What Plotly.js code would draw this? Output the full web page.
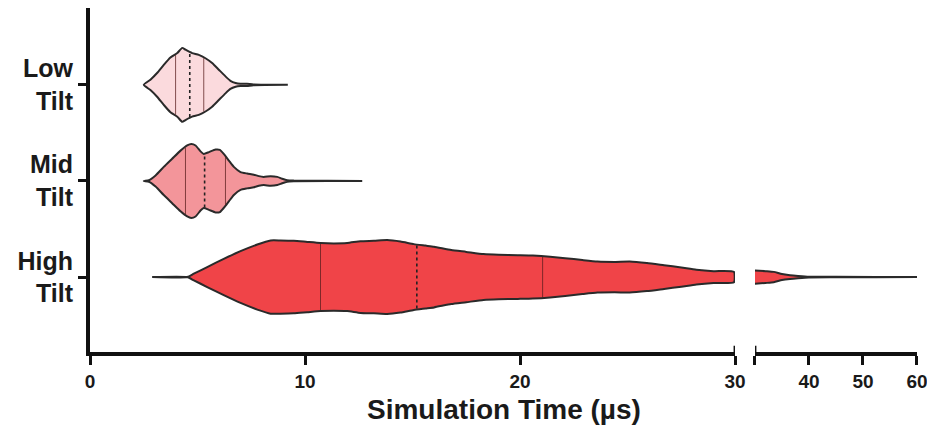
<!DOCTYPE html>
<html>
<head>
<meta charset="utf-8">
<script src="https://cdn.plot.ly/plotly-3.0.1.min.js"></script>
<style>html,body{margin:0;padding:0;background:#fff;}#chart{width:927px;height:431px;}</style>
</head>
<body>
<div id="chart"></div>
<script>
// ---- data ----
const categories = ['High<br>Tilt', 'Mid<br>Tilt', 'Low<br>Tilt'];
const categoryPos = [0, 1, 2];

// Low Tilt: time (µs) and relative density (half-width, 1 = widest)
const lowTime    = [2.5, 2.81, 3.12, 3.43, 3.74, 4.06, 4.29, 4.44, 4.75, 5.06, 5.37, 5.68, 5.99, 6.30, 6.53, 6.77, 7.0, 7.3, 7.6, 9.2];
const lowDensity = [0, 0.14, 0.32, 0.54, 0.74, 0.86, 1.0, 0.95, 0.86, 0.81, 0.72, 0.59, 0.41, 0.23, 0.11, 0.05, 0.03, 0.03, 0.01, 0];
const lowQuartiles = [3.98, 4.64, 5.29];

// Mid Tilt
const midTime    = [2.5, 2.74, 3.05, 3.43, 3.82, 4.21, 4.52, 4.71, 4.91, 5.14, 5.29, 5.53, 5.84, 6.04, 6.22, 6.46, 6.69, 7.0, 7.31, 7.62, 7.85, 8.08, 8.40, 8.71, 8.94, 9.17, 9.48, 12.66];
const midDensity = [0, 0.02, 0.15, 0.38, 0.6, 0.82, 0.96, 1.0, 0.96, 0.8, 0.73, 0.78, 0.85, 0.84, 0.73, 0.55, 0.38, 0.24, 0.2, 0.17, 0.13, 0.11, 0.13, 0.11, 0.06, 0.02, 0.01, 0];
const midQuartiles = [4.44, 5.33, 6.30];

// High Tilt (0–30 µs segment)
const highTime    = [2.89, 4.52, 4.83, 5.45, 6.22, 7.0, 7.78, 8.40, 8.86, 9.48, 10.10, 10.72, 11.34, 11.96, 12.58, 13.2, 13.82, 14.44, 15.06, 15.6, 16.0, 16.8, 17.5, 18.3, 19.0, 19.9, 20.6, 21.4, 22.1, 22.9, 23.6, 24.4, 25.1, 25.9, 26.7, 27.5, 28.2, 29.0, 29.95];
const highDensity = [0, 0, 0.09, 0.27, 0.49, 0.70, 0.88, 0.99, 0.99, 0.98, 0.95, 0.92, 0.91, 0.92, 0.97, 0.98, 1.0, 0.96, 0.89, 0.85, 0.82, 0.73, 0.68, 0.62, 0.60, 0.59, 0.58, 0.55, 0.51, 0.46, 0.42, 0.41, 0.42, 0.38, 0.32, 0.26, 0.20, 0.16, 0.14];
// High Tilt (30–60 µs segment, after the axis break)
const highTailTime    = [30, 32, 33.5, 35, 36.5, 38, 40, 45, 60];
const highTailDensity = [0.18, 0.16, 0.14, 0.08, 0.05, 0.03, 0.01, 0.005, 0];
const highQuartiles = [10.72, 15.2, 21.05];

const xTicksLeft = [0, 10, 20, 30];
const xTicksRight = [30, 40, 50, 60];
const xTickTextRight = ['', '40', '50', '60'];

// ---- styling ----
const HALF = 0.385;           // half-width (y units) of density 1
const OUTLINE = '#2a2a2a';
const FONT = 'Liberation Sans, Arial, Helvetica, sans-serif';
const colors = {low: '#fbdadd', mid: '#f3959a', high: '#f04448'};

function interp(xs, ys, x) {
  for (let i = 0; i < xs.length - 1; i++) {
    if (x >= xs[i] && x <= xs[i + 1]) {
      const t = (x - xs[i]) / (xs[i + 1] - xs[i]);
      return ys[i] + t * (ys[i + 1] - ys[i]);
    }
  }
  return 0;
}

function violin(time, dens, pos, color, xaxis) {
  const xs = time.concat(time.slice().reverse());
  const ys = dens.map(d => pos + d * HALF).concat(dens.slice().reverse().map(d => pos - d * HALF));
  return {
    type: 'scatter', mode: 'lines', x: xs, y: ys, xaxis: xaxis, yaxis: 'y',
    fill: 'toself', fillcolor: color,
    line: {color: OUTLINE, width: 2, shape: 'spline', smoothing: 0.5},
    hoverinfo: 'skip', showlegend: false
  };
}

function quartileLines(time, dens, pos, quarts) {
  const qx = [], qy = [], mx = [], my = [];
  quarts.forEach((q, i) => {
    const h = interp(time, dens, q) * HALF * 0.97;
    if (i === 1) { mx.push(q, q); my.push(pos - h, pos + h); }
    else { qx.push(q, q, null); qy.push(pos - h, pos + h, null); }
  });
  return [
    {type: 'scatter', mode: 'lines', x: qx, y: qy, xaxis: 'x', yaxis: 'y',
     line: {color: 'rgba(90,30,30,0.75)', width: 1}, hoverinfo: 'skip', showlegend: false},
    {type: 'scatter', mode: 'lines', x: mx, y: my, xaxis: 'x', yaxis: 'y',
     line: {color: '#222', width: 1.6, dash: 'dot'}, hoverinfo: 'skip', showlegend: false}
  ];
}

const traces = [
  violin(lowTime, lowDensity, categoryPos[2], colors.low, 'x'),
  ...quartileLines(lowTime, lowDensity, categoryPos[2], lowQuartiles),
  violin(midTime, midDensity, categoryPos[1], colors.mid, 'x'),
  ...quartileLines(midTime, midDensity, categoryPos[1], midQuartiles),
  violin(highTime, highDensity, categoryPos[0], colors.high, 'x'),
  ...quartileLines(highTime, highDensity, categoryPos[0], highQuartiles),
  violin(highTailTime, highTailDensity, categoryPos[0], colors.high, 'x2')
];

const axisCommon = {
  showgrid: false, zeroline: false, showline: true, linewidth: 4, linecolor: '#111',
  ticks: 'outside', ticklen: 9, tickwidth: 3, tickcolor: '#111',
  tickfont: {family: FONT, size: 19, color: '#1a1a1a', weight: 'bold'},
  ticklabeloverflow: 'allow',
  fixedrange: true
};

const layout = {
  width: 927, height: 431,
  margin: {l: 90, r: 10, t: 8, b: 79},
  paper_bgcolor: '#fff', plot_bgcolor: '#fff',
  showlegend: false,
  xaxis: Object.assign({}, axisCommon, {
    domain: [0, 0.78], range: [0, 30], tickmode: 'array', tickvals: xTicksLeft, anchor: 'y'
  }),
  xaxis2: Object.assign({}, axisCommon, {
    domain: [0.804, 1], range: [30, 60], tickmode: 'array', tickvals: xTicksRight, ticktext: xTickTextRight, anchor: 'y'
  }),
  yaxis: Object.assign({}, axisCommon, {
    range: [-0.78, 2.80], tickmode: 'array', tickvals: categoryPos, ticktext: categories,
    ticklen: 8, tickfont: {family: FONT, size: 25, color: '#1a1a1a', weight: 'bold'},
    anchor: 'x'
  }),
  shapes: [
    {type: 'line', xref: 'x', yref: 'paper', x0: 30, x1: 30, y0: -0.01, y1: 0.018, line: {color: '#111', width: 3}},
    {type: 'line', xref: 'x2', yref: 'paper', x0: 30, x1: 30, y0: -0.01, y1: 0.018, line: {color: '#111', width: 3}}
  ],
  annotations: [{
    text: 'Simulation Time (µs)', xref: 'paper', yref: 'paper', x: 0.5, y: -0.166,
    xanchor: 'center', yanchor: 'middle', showarrow: false,
    font: {family: FONT, size: 28, color: '#1a1a1a', weight: 'bold'}
  }]
};

Plotly.newPlot('chart', traces, layout, {displayModeBar: false, staticPlot: true});
</script>
</body>
</html>
